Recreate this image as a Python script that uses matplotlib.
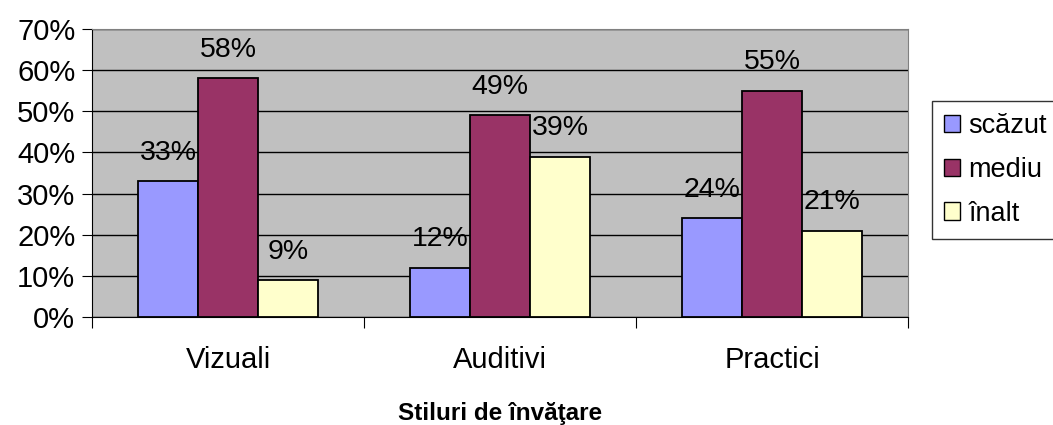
import numpy as np
import matplotlib.pyplot as plt
from matplotlib.patches import Patch

plt.rcParams['font.family'] = ['Liberation Sans', 'DejaVu Sans']

# data
categories = ['Vizuali', 'Auditivi', 'Practici']
series = ['scăzut', 'mediu', 'înalt']
scazut = [33, 12, 24]
mediu = [58, 49, 55]
inalt = [9, 39, 21]
colors = ['#9999FF', '#993366', '#FFFFCC']

fig = plt.figure(figsize=(10.53, 4.25), dpi=100)
ax = fig.add_axes([0.0874, 0.254, 0.775, 0.678])
ax.set_facecolor('#C0C0C0')

x = np.arange(len(categories))
w = 0.22
for i, (vals, c) in enumerate(zip([scazut, mediu, inalt], colors)):
    pos = x + (i - 1) * w
    ax.bar(pos, vals, width=w, color=c, edgecolor='black', linewidth=1.3, zorder=3)
    for px, v in zip(pos, vals):
        ax.annotate(f'{v}%', (px, v), xytext=(0, 11), textcoords='offset points',
                    ha='center', va='bottom', fontsize=20.5)

ax.set_xlim(-0.5, 2.5)
ax.set_ylim(0, 70)
ax.set_yticks(range(0, 71, 10))
ax.set_yticklabels([f'{t}%' for t in range(0, 71, 10)], fontsize=21)
ax.yaxis.grid(True, color='black', linewidth=1)
ax.set_axisbelow(True)

ax.set_xticks([-0.5, 0.5, 1.5, 2.5])
ax.set_xticklabels([])
ax.set_xticks(x, minor=True)
ax.set_xticklabels(categories, minor=True, fontsize=21)
ax.tick_params(axis='x', which='minor', length=0, pad=21)
ax.tick_params(axis='x', which='major', length=8, direction='out', color='black')
ax.tick_params(axis='y', length=7, direction='out', pad=5)

ax.set_xlabel('Stiluri de învăţare', fontsize=17.5, fontweight='bold', labelpad=20)

for s in ['top', 'right']:
    ax.spines[s].set_color('#808080')
ax.spines['left'].set_color('black')
ax.spines['bottom'].set_color('black')

handles = [Patch(facecolor=c, edgecolor='black', label=s) for c, s in zip(colors, series)]
leg = fig.legend(handles=handles, loc='upper left', bbox_to_anchor=(0.885, 0.762),
                 fontsize=19.5, frameon=True, fancybox=False, edgecolor='black',
                 handlelength=0.6, handleheight=0.6, handletextpad=0.3,
                 labelspacing=0.65, borderpad=0.45, borderaxespad=0)
leg.get_frame().set_linewidth(1)

fig.savefig('out.png', dpi=100)
